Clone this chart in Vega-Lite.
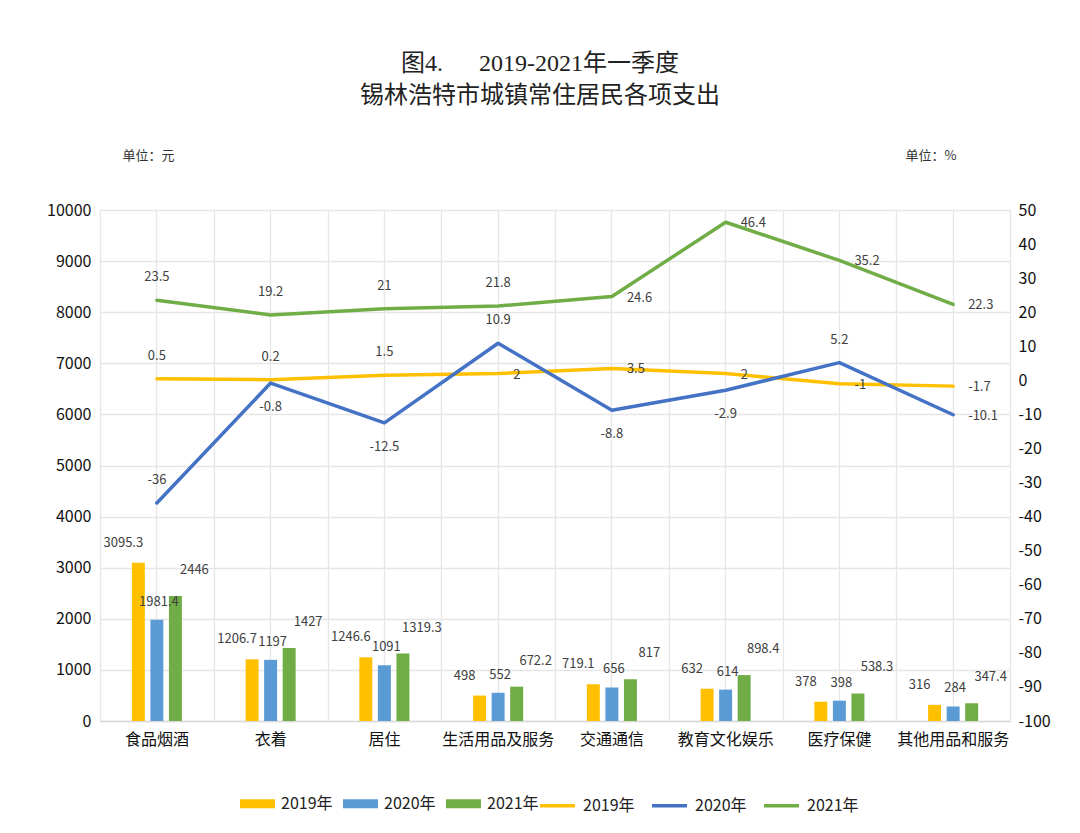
{
  "$schema": "https://vega.github.io/schema/vega-lite/v6.json",
  "autosize": {"type": "none"},
  "padding": {"left": 100, "top": 210, "right": 70, "bottom": 112},
  "width": 910,
  "height": 511,
  "background": "white",
  "title": {
    "text": ["图4.\u00a0\u00a0\u00a0\u00a0\u00a0\u00a02019-2021年一季度", "锡林浩特市城镇常住居民各项支出"],
    "font": "Liberation Serif, Noto Sans CJK SC",
    "fontSize": 24,
    "fontWeight": "normal",
    "color": "#222222",
    "lineHeight": 32,
    "anchor": "middle",
    "frame": "group",
    "dx": -15,
    "offset": 41
  },
  "data": {
    "values": [
      {"cat": "食品烟酒", "year": "2019年", "amount": 3095.3, "growth": 0.5},
      {"cat": "食品烟酒", "year": "2020年", "amount": 1981.4, "growth": -36},
      {"cat": "食品烟酒", "year": "2021年", "amount": 2446, "growth": 23.5},
      {"cat": "衣着", "year": "2019年", "amount": 1206.7, "growth": 0.2},
      {"cat": "衣着", "year": "2020年", "amount": 1197, "growth": -0.8},
      {"cat": "衣着", "year": "2021年", "amount": 1427, "growth": 19.2},
      {"cat": "居住", "year": "2019年", "amount": 1246.6, "growth": 1.5},
      {"cat": "居住", "year": "2020年", "amount": 1091, "growth": -12.5},
      {"cat": "居住", "year": "2021年", "amount": 1319.3, "growth": 21},
      {"cat": "生活用品及服务", "year": "2019年", "amount": 498, "growth": 2},
      {"cat": "生活用品及服务", "year": "2020年", "amount": 552, "growth": 10.9},
      {"cat": "生活用品及服务", "year": "2021年", "amount": 672.2, "growth": 21.8},
      {"cat": "交通通信", "year": "2019年", "amount": 719.1, "growth": 3.5},
      {"cat": "交通通信", "year": "2020年", "amount": 656, "growth": -8.8},
      {"cat": "交通通信", "year": "2021年", "amount": 817, "growth": 24.6},
      {"cat": "教育文化娱乐", "year": "2019年", "amount": 632, "growth": 2},
      {"cat": "教育文化娱乐", "year": "2020年", "amount": 614, "growth": -2.9},
      {"cat": "教育文化娱乐", "year": "2021年", "amount": 898.4, "growth": 46.4},
      {"cat": "医疗保健", "year": "2019年", "amount": 378, "growth": -1},
      {"cat": "医疗保健", "year": "2020年", "amount": 398, "growth": 5.2},
      {"cat": "医疗保健", "year": "2021年", "amount": 538.3, "growth": 35.2},
      {"cat": "其他用品和服务", "year": "2019年", "amount": 316, "growth": -1.7},
      {"cat": "其他用品和服务", "year": "2020年", "amount": 284, "growth": -10.1},
      {"cat": "其他用品和服务", "year": "2021年", "amount": 347.4, "growth": 22.3}
    ]
  },
  "layer": [
    {
      "encoding": {
        "x": {
          "field": "cat", "type": "nominal", "sort": null,
          "scale": {"paddingInner": 0.56, "paddingOuter": 0.28},
          "axis": {
            "orient": "bottom", "title": null, "labelAngle": 0, "grid": true,
            "gridColor": "#e6e6e6", "gridWidth": 1.3,
            "ticks": false, "tickSize": 0, "labelPadding": 10,
            "domainColor": "#d9d9d9", "domainWidth": 1.3,
            "labelFont": "Noto Sans CJK SC", "labelFontSize": 16, "labelColor": "#111111"
          }
        },
        "y": {
          "field": "amount", "type": "quantitative",
          "scale": {"domain": [0, 10000], "nice": false},
          "axis": {
            "orient": "left", "values": [0, 1000, 2000, 3000, 4000, 5000, 6000, 7000, 8000, 9000, 10000],
            "labelExpr": "'' + datum.value",
            "grid": true, "gridColor": "#e6e6e6", "gridWidth": 1.3,
            "domain": false, "ticks": false, "tickSize": 0, "labelPadding": 9,
            "labelFont": "Noto Sans CJK SC", "labelFontSize": 16, "labelColor": "#111111",
            "title": "单位：元", "titleAngle": 0, "titleX": 22, "titleY": -55,
            "titleAlign": "left", "titleBaseline": "middle",
            "titleFont": "Noto Sans CJK SC", "titleFontSize": 13, "titleFontWeight": "normal", "titleColor": "#333333"
          }
        },
        "xOffset": {"field": "year", "type": "nominal", "scale": {"paddingInner": 0.3, "paddingOuter": 0}}
      },
      "layer": [
        {
          "mark": {"type": "bar"},
          "encoding": {
            "fill": {
              "field": "year", "type": "nominal",
              "scale": {"domain": ["2019年", "2020年", "2021年"], "range": ["#FFC000", "#5B9BD5", "#70AD47"]},
              "legend": {
                "orient": "none", "legendX": 140, "legendY": 576, "direction": "horizontal",
                "title": null, "symbolType": "M-1,-0.26H1V0.26H-1Z", "symbolSize": 1225,
                "symbolStrokeWidth": 0, "labelFont": "Noto Sans CJK SC", "labelFontSize": 16,
                "labelColor": "#222222", "labelOffset": 6, "columnSpacing": 8
              }
            }
          }
        },
        {
          "transform": [{"filter": {"field": "year", "equal": "2019年"}}],
          "mark": {"type": "text", "dx": -15, "dy": -20, "baseline": "middle", "fontSize": 13, "font": "Noto Sans CJK SC", "color": "#404040"},
          "encoding": {"text": {"field": "amount", "type": "nominal"}}
        },
        {
          "transform": [{"filter": {"field": "year", "equal": "2020年"}}],
          "mark": {"type": "text", "dx": 2, "dy": -18, "baseline": "middle", "fontSize": 13, "font": "Noto Sans CJK SC", "color": "#404040"},
          "encoding": {"text": {"field": "amount", "type": "nominal"}}
        },
        {
          "transform": [{"filter": {"field": "year", "equal": "2021年"}}],
          "mark": {"type": "text", "dx": 19, "dy": -26, "baseline": "middle", "fontSize": 13, "font": "Noto Sans CJK SC", "color": "#404040"},
          "encoding": {"text": {"field": "amount", "type": "nominal"}}
        }
      ]
    },
    {
      "encoding": {
        "x": {
          "field": "cat", "type": "nominal", "sort": null,
          "scale": {"paddingInner": 0, "paddingOuter": 0},
          "axis": {
            "orient": "top", "title": null, "labels": false, "ticks": false, "domain": false,
            "grid": true, "tickBand": "extent", "gridColor": "#e6e6e6", "gridWidth": 1.3
          }
        },
        "y": {
          "field": "growth", "type": "quantitative",
          "scale": {"domain": [-100, 50], "nice": false},
          "axis": {
            "orient": "right", "values": [-100, -90, -80, -70, -60, -50, -40, -30, -20, -10, 0, 10, 20, 30, 40, 50],
            "labelExpr": "'' + datum.value",
            "grid": false, "domain": false, "ticks": false, "tickSize": 0, "labelPadding": 8,
            "labelFont": "Noto Sans CJK SC", "labelFontSize": 16, "labelColor": "#111111",
            "title": "单位：%", "titleAngle": 0, "titleX": -105, "titleY": -55,
            "titleAlign": "left", "titleBaseline": "middle",
            "titleFont": "Noto Sans CJK SC", "titleFontSize": 13, "titleFontWeight": "normal", "titleColor": "#333333"
          }
        }
      },
      "layer": [
        {
          "mark": {"type": "line", "strokeWidth": 3.5, "strokeJoin": "round", "strokeCap": "round"},
          "encoding": {
            "stroke": {
              "field": "year", "type": "nominal",
              "scale": {"range": ["#FFC000", "#4472C4", "#70AD47"]},
              "legend": {
                "orient": "none", "legendX": 438, "legendY": 576, "direction": "horizontal",
                "title": null, "symbolType": "stroke", "symbolSize": 1225, "symbolStrokeWidth": 3.5,
                "labelFont": "Noto Sans CJK SC", "labelFontSize": 16,
                "labelColor": "#222222", "labelOffset": 6, "columnSpacing": 8
              }
            }
          }
        },
        {
          "transform": [{"filter": {"or": [
            {"and": [{"field": "year", "equal": "2021年"}, {"field": "cat", "oneOf": ["食品烟酒", "衣着", "居住", "生活用品及服务"]}]},
            {"and": [{"field": "year", "equal": "2019年"}, {"field": "cat", "oneOf": ["食品烟酒", "衣着", "居住"]}]},
            {"and": [{"field": "year", "equal": "2020年"}, {"field": "cat", "oneOf": ["食品烟酒", "生活用品及服务", "医疗保健"]}]}
          ]}}],
          "mark": {"type": "text", "dy": -23, "baseline": "middle", "fontSize": 13, "font": "Noto Sans CJK SC", "color": "#404040"},
          "encoding": {"text": {"field": "growth", "type": "nominal"}}
        },
        {
          "transform": [{"filter": {"or": [
            {"and": [{"field": "year", "equal": "2021年"}, {"field": "cat", "oneOf": ["交通通信", "教育文化娱乐", "医疗保健", "其他用品和服务"]}]},
            {"and": [{"field": "year", "equal": "2019年"}, {"field": "cat", "oneOf": ["生活用品及服务", "交通通信", "教育文化娱乐", "医疗保健", "其他用品和服务"]}]},
            {"and": [{"field": "year", "equal": "2020年"}, {"field": "cat", "equal": "其他用品和服务"}]}
          ]}}],
          "mark": {"type": "text", "dx": 15, "dy": 1, "align": "left", "baseline": "middle", "fontSize": 13, "font": "Noto Sans CJK SC", "color": "#404040"},
          "encoding": {"text": {"field": "growth", "type": "nominal"}}
        },
        {
          "transform": [{"filter": {"and": [{"field": "year", "equal": "2020年"}, {"field": "cat", "oneOf": ["衣着", "居住", "交通通信", "教育文化娱乐"]}]}}],
          "mark": {"type": "text", "dy": 24, "baseline": "middle", "fontSize": 13, "font": "Noto Sans CJK SC", "color": "#404040"},
          "encoding": {"text": {"field": "growth", "type": "nominal"}}
        }
      ]
    }
  ],
  "resolve": {"scale": {"y": "independent", "x": "independent"}, "axis": {"x": "independent"}},
  "config": {"view": {"stroke": null}}
}
